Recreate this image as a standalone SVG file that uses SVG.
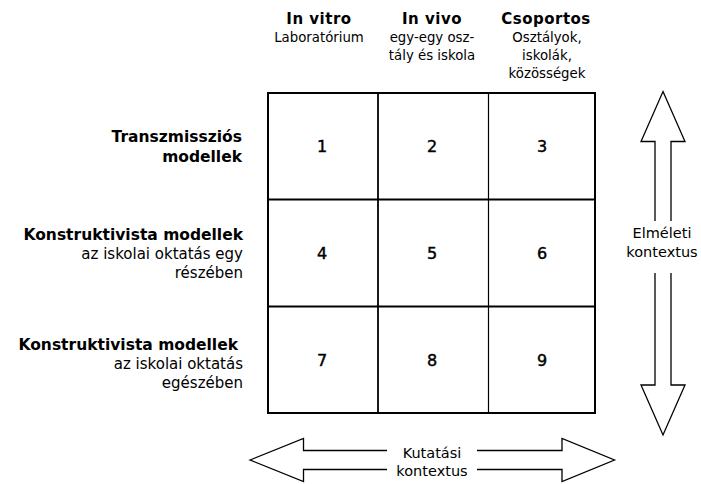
<svg xmlns="http://www.w3.org/2000/svg" width="701" height="484" viewBox="0 0 701 484">
<style>
text{font-family:"DejaVu Sans","Liberation Sans",sans-serif;fill:#000}
.hb{font-size:15px;font-weight:bold;text-anchor:middle;letter-spacing:0.5px}
.hs{font-size:13.3px;text-anchor:middle}
.rb{font-size:15.5px;font-weight:bold;text-anchor:end}
.rs{font-size:15px;text-anchor:end}
.num{font-size:16px;text-anchor:middle;stroke:#000;stroke-width:0.45}
.ax{font-size:14.5px;text-anchor:middle}
.arrow{fill:#fff;stroke:#000;stroke-width:1.3;stroke-linejoin:miter}
.grid{fill:none;stroke:#000}
</style>
<rect width="701" height="484" fill="#fff"/>

<g id="col-headers">
  <g id="col-invitro">
    <text class="hb" x="319" y="24">In vitro</text>
    <text class="hs" x="319" y="42">Laboratórium</text>
  </g>
  <g id="col-invivo">
    <text class="hb" x="432" y="24">In vivo</text>
    <text class="hs" x="432" y="42">egy-egy osz-</text>
    <text class="hs" x="432" y="60">tály és iskola</text>
  </g>
  <g id="col-csoportos">
    <text class="hb" x="546" y="24">Csoportos</text>
    <text class="hs" x="547" y="42">Osztályok,</text>
    <text class="hs" x="547" y="60">iskolák,</text>
    <text class="hs" x="547" y="78">közösségek</text>
  </g>
</g>

<g id="row-headers">
  <g id="row-transzmisszios">
    <text class="rb" x="242" y="142">Transzmissziós</text>
    <text class="rb" x="242" y="162">modellek</text>
  </g>
  <g id="row-konstr-resz">
    <text class="rb" x="243" y="240">Konstruktivista modellek</text>
    <text class="rs" x="243" y="259">az iskolai oktatás egy</text>
    <text class="rs" x="243" y="278">részében</text>
  </g>
  <g id="row-konstr-egesz">
    <text class="rb" x="238" y="350">Konstruktivista modellek</text>
    <text class="rs" x="243" y="369">az iskolai oktatás</text>
    <text class="rs" x="243" y="388">egészében</text>
  </g>
</g>

<g id="grid">
  <rect class="grid" x="268" y="93" width="327" height="320" stroke-width="2"/>
  <line class="grid" x1="268" y1="199.5" x2="595" y2="199.5" stroke-width="2"/>
  <line class="grid" x1="268" y1="306.5" x2="595" y2="306.5" stroke-width="2"/>
  <line class="grid" x1="378" y1="93" x2="378" y2="413" stroke-width="1.8"/>
  <line class="grid" x1="488.5" y1="93" x2="488.5" y2="413" stroke-width="1.2"/>
</g>

<g id="cells">
  <g id="cell-1"><text class="num" x="322" y="152">1</text></g>
  <g id="cell-2"><text class="num" x="432" y="152">2</text></g>
  <g id="cell-3"><text class="num" x="542" y="152">3</text></g>
  <g id="cell-4"><text class="num" x="322" y="259">4</text></g>
  <g id="cell-5"><text class="num" x="432" y="259">5</text></g>
  <g id="cell-6"><text class="num" x="542" y="259">6</text></g>
  <g id="cell-7"><text class="num" x="322" y="366">7</text></g>
  <g id="cell-8"><text class="num" x="432" y="366">8</text></g>
  <g id="cell-9"><text class="num" x="542" y="366">9</text></g>
</g>

<g id="connectors">
  <g id="axis-elmeleti">
    <polygon class="arrow" points="663,91.5 685,141.5 671,141.5 671,385 685,385 663,435 641,385 655,385 655,141.5 641,141.5"/>
    <rect x="648" y="221" width="30" height="52" fill="#fff"/>
    <text class="ax" x="662" y="238">Elméleti</text>
    <text class="ax" x="662" y="257">kontextus</text>
  </g>
  <g id="axis-kutatasi">
    <polygon class="arrow" points="250,460 303.5,438.5 303.5,450.5 562,450.5 562,438.5 614.5,460 562,481.5 562,469.5 303.5,469.5 303.5,481.5"/>
    <rect x="387" y="445" width="90" height="30" fill="#fff"/>
    <text class="ax" x="432" y="458">Kutatási</text>
    <text class="ax" x="432" y="476">kontextus</text>
  </g>
</g>
</svg>
